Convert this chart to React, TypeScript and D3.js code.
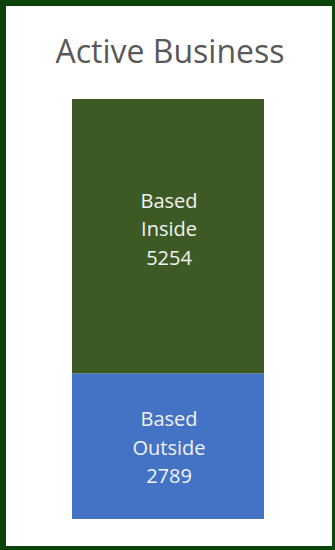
import React from "react";
import * as d3 from "d3";

const title = "Active Business";
const categories = ["Active Business"];
const segmentNames = ["Based Outside", "Based Inside"];
const segmentLines = [["Based", "Outside"], ["Based", "Inside"]];
const segmentValues = [2789, 5254];
const segmentColors = ["#4472C4", "#3D5A24"];

const W = 335;
const H = 550;

export default function App() {
  const total = d3.sum(segmentValues);
  const y = d3.scaleLinear().domain([0, total]).range([519, 99]);
  const x = d3.scaleBand().domain(categories).range([72, 264]).paddingInner(0).paddingOuter(0);
  const stacked = d3.stack<any>().keys(segmentNames)([
    Object.fromEntries(segmentNames.map((n, i) => [n, segmentValues[i]])),
  ]);
  const font = "'Open Sans', 'Noto Sans', sans-serif";
  const labelShift = [8.5, 0];
  return (
    <svg width={W} height={H} style={{ position: "absolute", left: 0, top: 0, display: "block" }}>
      <rect x={0} y={0} width={W} height={H} fill="#0B430C" />
      <rect x={6} y={6} width={W - 6 - 3} height={H - 6 - 4} fill="#ffffff" />
      <text x={170} y={63} textAnchor="middle" fontFamily={font} fontSize={32} fill="#595959">
        {title}
      </text>
      {stacked.map((s, i) => {
        const d = s[0];
        const y0 = y(d[1]);
        const y1 = y(d[0]);
        const cx = (x(categories[0]) ?? 0) + x.bandwidth() / 2;
        const mid = (y0 + y1) / 2;
        const lines = [...segmentLines[i], String(segmentValues[i])];
        const lh = 28.5;
        return (
          <g key={segmentNames[i]}>
            <rect x={x(categories[0])} y={y0} width={x.bandwidth()} height={y1 - y0} fill={segmentColors[i]} />
            {lines.map((t, j) => (
              <text
                key={j}
                x={cx + 1}
                y={mid + (j - 1) * lh + labelShift[i]}
                textAnchor="middle"
                fontFamily={font}
                fontSize={20}
                fill="#F2F2F2"
              >
                {t}
              </text>
            ))}
          </g>
        );
      })}
    </svg>
  );
}
